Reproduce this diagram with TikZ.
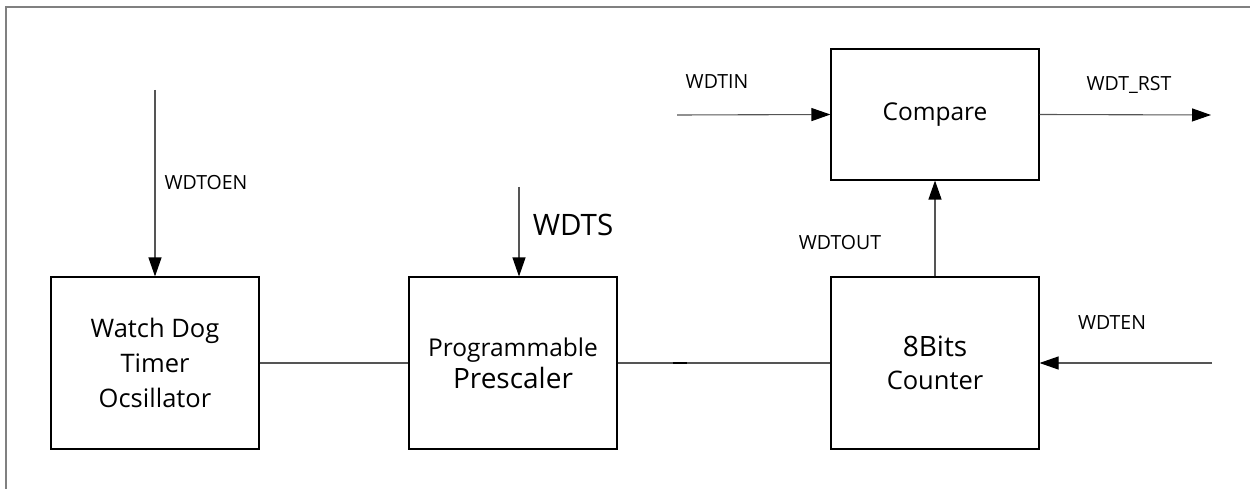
\documentclass[tikz,border=0pt]{standalone}
\usepackage{fontspec}
\setmainfont{Open Sans}
\usetikzlibrary{arrows.meta,calc}
\definecolor{framegray}{RGB}{128,128,128}
\definecolor{wiregray}{RGB}{85,85,85}
\tikzset{
  block/.style={draw=black, line width=1.1pt, minimum width=208pt, minimum height=172pt,
    align=center, inner sep=0pt, font=\fontsize{25.5}{35}\selectfont},
  wire/.style={draw=wiregray, line width=1.1pt},
  sig/.style={wire, -{Triangle[length=19pt,width=13pt,color=black,fill=black]}},
  lbl/.style={font=\fontsize{19.5}{22}\selectfont, inner sep=0pt},
  biglbl/.style={font=\fontsize{29.5}{32}\selectfont, inner sep=0pt}
}
\begin{document}
\begin{tikzpicture}[x=1pt, y=-1pt]
  \useasboundingbox (0,0) rectangle (1250,489);
  % outer frame (top and left edges)
  \draw[framegray, line width=1.5pt] (6,489) -- (6,7) -- (1250,7);

  % blocks
  \node[block] (osc) at (155,363) {Watch Dog\\Timer\\Ocsillator};
  \node[block, font=\fontsize{24.5}{33}\selectfont] (pre) at (513,363) {Programmable\\[-1pt]{\fontsize{28}{32}\selectfont Prescaler}};
  \node[block] (cnt) at (935,363) {{\fontsize{28}{32}\selectfont 8Bits}\\[-2pt]Counter};
  \node[block, minimum height=131pt, font=\fontsize{24.5}{30}\selectfont] (cmp) at (935,114.5) {Compare};

  % free ends of the input/output signals
  \coordinate (oenin) at (155,90);
  \coordinate (wdtsin) at (519,187);
  \coordinate (wdtinin) at (677,115);
  \coordinate (rstout) at (1211,115);
  \coordinate (enin) at (1212,363);

  % signals
  \draw[sig] (oenin) -- (osc.north);
  \draw[sig] (wdtsin) -- (wdtsin |- pre.north);
  \draw[sig] (wdtinin) -- (cmp.west);
  \draw[sig] (cmp.east) -- (rstout);
  \draw[sig] (cnt.north) -- (cmp.south);
  \draw[sig] (enin) -- (cnt.east);

  % data path between blocks
  \draw[wire] (osc.east) -- (pre.west);
  \draw[wire] (pre.east) -- (cnt.west);
  \draw[black, line width=2pt] ($(pre.east)+(55,0)$) -- ++(14,0);

  % labels
  \node[lbl] (l1) at (206,183) {WDTOEN};
  \node[biglbl] (l2) at (573,225) {WDTS};
  \node[lbl] (l3) at (840,243) {WDTOUT};
  \node[lbl] (l4) at (717,82) {WDTIN};
  \node[lbl] (l5) at (1129,85) {WDT\_RST};
  \node[lbl] (l6) at (1112,323) {WDTEN};
\end{tikzpicture}
\end{document}
